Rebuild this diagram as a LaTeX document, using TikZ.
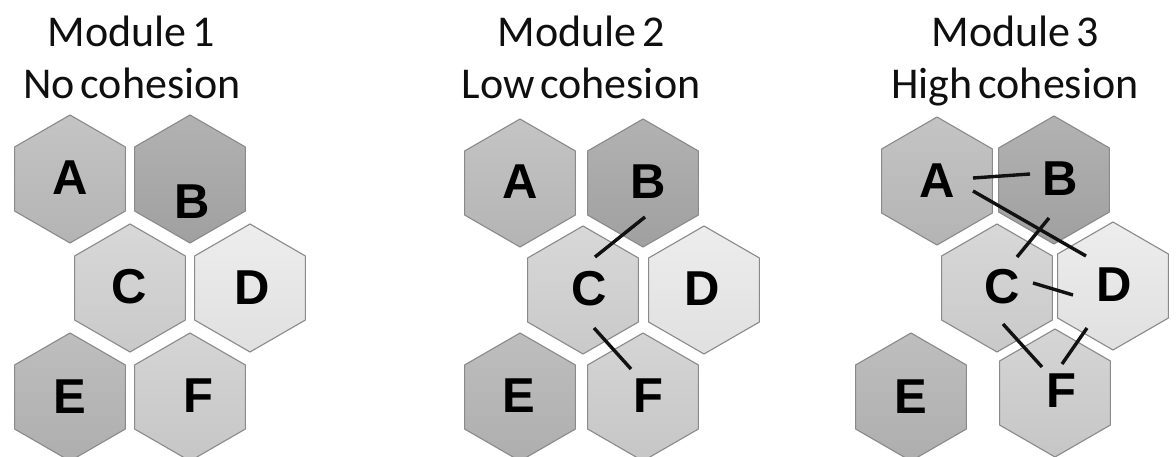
\documentclass[tikz,border=0pt]{standalone}
\usepackage{fontspec}
\setmainfont{Carlito}
\newfontfamily\letterfont{Liberation Sans}
\usetikzlibrary{shapes.geometric,calc}

\definecolor{hexline}{HTML}{8A8A8A}
\definecolor{linkcol}{HTML}{111111}

% heading type: Carlito with a tight word space
\newcommand\headingtype{\fontsize{44}{52}\selectfont\spaceskip=0.13em plus 0.02em\relax}

\tikzset{
  hexcell/.style={regular polygon, regular polygon sides=6, shape border rotate=30,
    minimum size=128pt, inner sep=0pt, outer sep=0pt, draw=hexline, line width=1.1pt,
    preaction={draw=white, line width=6pt}},
  cellA/.style={hexcell, top color={rgb,255:red,196;green,196;blue,196}, bottom color={rgb,255:red,180;green,180;blue,180}},
  cellB/.style={hexcell, top color={rgb,255:red,178;green,178;blue,178}, bottom color={rgb,255:red,160;green,160;blue,160}},
  cellC/.style={hexcell, top color={rgb,255:red,216;green,216;blue,216}, bottom color={rgb,255:red,201;green,201;blue,201}},
  cellD/.style={hexcell, top color={rgb,255:red,237;green,237;blue,237}, bottom color={rgb,255:red,224;green,224;blue,224}},
  cellE/.style={hexcell, top color={rgb,255:red,190;green,190;blue,190}, bottom color={rgb,255:red,174;green,174;blue,174}},
  cellF/.style={hexcell, top color={rgb,255:red,213;green,213;blue,213}, bottom color={rgb,255:red,198;green,198;blue,198}},
  letter/.style={inner sep=0pt, outer sep=0pt, text=black,
    font=\letterfont\bfseries\fontsize{49}{49}\selectfont},
  heading/.style={anchor=base, inner sep=0pt, text={rgb,255:red,15;green,15;blue,15},
    font=\headingtype},
  link/.style={draw=linkcol, line width=3.4pt}
}

\begin{document}
\begin{tikzpicture}[x=1pt,y=-1pt]
\useasboundingbox (0,0) rectangle (1176,457);
\clip (0,0) rectangle (1176,457);

% headings
\node[heading] (m1a) at (131,47) {Module 1};
\node[heading] (m1b) at (132,99) {No cohesion};
\node[heading] (m2a) at (581,47) {Module 2};
\node[heading] (m2b) at (581,99) {Low cohesion};
\node[heading] (m3a) at (1015,47) {Module 3};
\node[heading] (m3b) at (1015,99) {High cohesion};

% module 1 cells
\node[cellA] (h1A) at (70,179) {};
\node[cellB] (h1B) at (190,179) {};
\node[cellC] (h1C) at (130,288) {};
\node[cellD] (h1D) at (250,288) {};
\node[cellE] (h1E) at (70,397) {};
\node[cellF] (h1F) at (190,397) {};

% module 2 cells
\node[cellA] (h2A) at (520,183) {};
\node[cellB] (h2B) at (643,183) {};
\node[cellC] (h2C) at (583,290) {};
\node[cellD] (h2D) at (704,290) {};
\node[cellE] (h2E) at (520,397) {};
\node[cellF] (h2F) at (643,397) {};

% module 3 cells
\node[cellA] (h3A) at (937,181) {};
\node[cellB] (h3B) at (1054,180) {};
\node[cellC] (h3C) at (997,288) {};
\node[cellD] (h3D) at (1113,286) {};
\node[cellE] (h3E) at (911,397) {};
\node[cellF] (h3F) at (1055,393) {};

% module 1 letters
\node[letter] (l1A) at (70,178) {A};
\node[letter] (l1B) at (192,202) {B};
\node[letter] (l1C) at (129,287) {C};
\node[letter] (l1D) at (252,288) {D};
\node[letter] (l1E) at (70,397) {E};
\node[letter] (l1F) at (198,396) {F};

% module 2 letters
\node[letter] (l2A) at (520,182) {A};
\node[letter] (l2B) at (648,182) {B};
\node[letter] (l2C) at (589,289) {C};
\node[letter] (l2D) at (702,289) {D};
\node[letter] (l2E) at (519,396) {E};
\node[letter] (l2F) at (648,396) {F};

% module 3 letters
\node[letter] (l3A) at (937,181) {A};
\node[letter] (l3B) at (1060,179) {B};
\node[letter] (l3C) at (1002,287) {C};
\node[letter] (l3D) at (1114,285) {D};
\node[letter] (l3E) at (911,397) {E};
\node[letter] (l3F) at (1061,391) {F};

% module 2 links
\draw[link] ($(l2B)+(-3,35)$) -- ($(l2C)+(6,-32)$);
\draw[link] ($(l2C)+(5,39)$) -- ($(l2F)+(-17,-27)$);

% module 3 links
\draw[link] ($(l3A)+(36,-3)$) -- ($(l3B)+(-30,-5)$);
\draw[link] ($(l3A)+(36,10)$) -- ($(l3D)+(-28,-29)$);
\draw[link] ($(l3B)+(-11,39)$) -- ($(l3C)+(15,-30)$);
\draw[link] ($(l3C)+(31,-4)$) -- ($(l3D)+(-41,10)$);
\draw[link] ($(l3C)+(1,37)$) -- ($(l3F)+(-19,-24)$);
\draw[link] ($(l3D)+(-27,43)$) -- ($(l3F)+(1,-27)$);
\end{tikzpicture}
\end{document}
